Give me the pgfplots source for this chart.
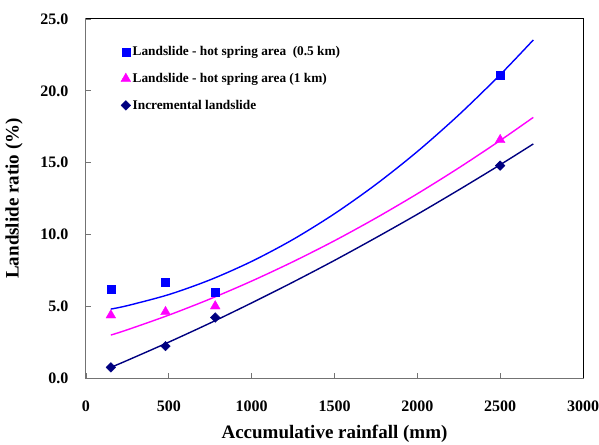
\documentclass[border=0pt]{standalone}
\usepackage{fontspec}
\setmainfont{Liberation Serif}
\usepackage{pgfplots}
\pgfplotsset{compat=1.18}

\definecolor{sqblue}{RGB}{0,0,255}
\definecolor{trimag}{RGB}{255,0,255}
\definecolor{dmnavy}{RGB}{0,0,128}

\begin{document}
\begin{tikzpicture}
\useasboundingbox (-86pt,-66pt) rectangle (513pt,378pt);
\begin{axis}[
    scale only axis,
    width=497pt, height=359pt,
    xmin=0, xmax=3000,
    ymin=0, ymax=25,
    xtick={0,500,1000,1500,2000,2500,3000},
    ytick={0,5,10,15,20,25},
    tick pos=left,
    tick align=inside,
    major tick length=5pt,
    axis line style={black!55, line width=1pt},
    tick style={black!55, line width=0.9pt},
    after end axis/.code={
        \draw[black, line width=1pt] (rel axis cs:0,1) -- (rel axis cs:1,1) -- (rel axis cs:1,0);
    },
    /pgf/number format/assume math mode=true,
    ticklabel style={font=\bfseries\fontsize{16}{18}\selectfont},
    yticklabel={\pgfmathprintnumber[fixed,fixed zerofill,precision=1]{\tick}},
    xticklabel style={/pgf/number format/1000 sep={}, yshift=-19pt},
    yticklabel style={xshift=-14pt},
    xlabel={\bfseries Accumulative rainfall (mm)},
    ylabel={\bfseries Landslide ratio (\%)},
    label style={font=\bfseries\fontsize{19}{21}\selectfont},
    xlabel style={yshift=-7pt},
    ylabel style={yshift=11pt},
    legend style={draw=none, fill=none, at={(0.068,0.932)}, anchor=north west,
        font=\bfseries\fontsize{13.3}{15}\selectfont, row sep=12pt,
        inner sep=1pt},
    legend cell align=left,
    legend image code/.code={\draw[#1] plot coordinates {(0.2cm,0cm)};},
    every odd column/.style={column sep=5.5pt},
]
% trend lines
\addplot[sqblue, line width=1.4pt, smooth, forget plot] coordinates {
(150,4.80)(250,5.04)(500,5.81)(750,6.84)(1000,8.12)(1250,9.65)(1500,11.44)
(1750,13.48)(2000,15.77)(2250,18.32)(2500,21.12)(2700,23.54)};
\addplot[trimag, line width=1.4pt, smooth, forget plot] coordinates {
(150,2.99)(250,3.36)(500,4.38)(750,5.51)(1000,6.75)(1250,8.10)(1500,9.56)
(1750,11.14)(2000,12.83)(2250,14.63)(2500,16.54)(2700,18.15)};
\addplot[dmnavy, line width=1.4pt, smooth, forget plot] coordinates {
(150,0.74)(250,1.23)(500,2.50)(750,3.83)(1000,5.23)(1250,6.68)(1500,8.19)
(1750,9.77)(2000,11.40)(2250,13.10)(2500,14.85)(2700,16.30)};
% data
\addplot[only marks, mark=square*, mark size=3.9pt, sqblue] coordinates {
(150,6.16)(480,6.69)(780,5.95)(2500,21.1)};
\addlegendentry{Landslide - hot spring area\ \ (0.5 km)}
\addplot[only marks, mark=triangle*, mark size=5.6pt, trimag] coordinates {
(150,4.37)(480,4.6)(780,5.0)(2500,16.58)};
\addlegendentry{Landslide - hot spring area (1 km)}
\addplot[only marks, mark=square*, mark size=3.4pt, mark options={rotate=45}, dmnavy] coordinates {
(150,0.74)(480,2.22)(780,4.21)(2500,14.79)};
\addlegendentry{Incremental landslide}
\end{axis}
\end{tikzpicture}
\end{document}
